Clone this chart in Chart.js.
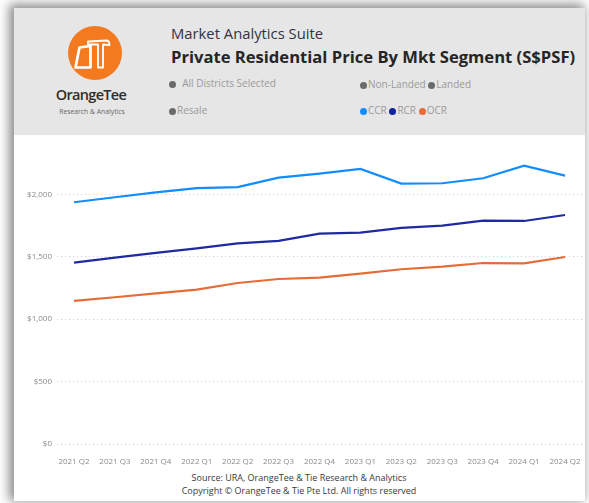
<!DOCTYPE html>
<html>
<head>
<meta charset="utf-8">
<script src="https://cdn.jsdelivr.net/npm/chart.js@4.4.1/dist/chart.umd.min.js"></script>
<style>
  html, body { margin: 0; padding: 0; width: 589px; height: 503px; background: #ffffff; overflow: hidden; font-family: "Open Sans", sans-serif; }
  #card { position: absolute; left: 14px; top: 8px; width: 571px; height: 493px; background: #fff; box-shadow: -3px -2px 10px 2px rgba(0,0,0,0.45); }
  #header { position: absolute; left: 0; top: 0; width: 571px; height: 127px; background: #e6e6e6; }
  .abs { position: absolute; white-space: nowrap; }
  #logoCircle { position: absolute; left: 68px; top: 26px; width: 54px; height: 54px; border-radius: 50%; background: #f47a20; }
  #brand { left: 41px; top: 85px; width: 100px; text-align: center; font-size: 14.5px; color: #2e2e2e; letter-spacing: -0.7px; font-weight: 600; }
  #brandSub { left: 42px; top: 107px; width: 100px; text-align: center; font-size: 6.8px; color: #666; }
  #suite { left: 171px; top: 23px; font-size: 14.8px; color: #333344; }
  #title { left: 171px; top: 45px; font-size: 16.6px; font-weight: 700; color: #252525; }
  .slicer { font-size: 10px; color: #9a9a9a; }
  .dot { display: inline-block; width: 7px; height: 7px; border-radius: 50%; background: #6a6a6a; vertical-align: -1px; margin-right: 1px; }
  #chartWrap { position: absolute; left: 0; top: 135px; width: 589px; height: 330px; }
  .src { left: 0; width: 598px; text-align: center; font-size: 9px; color: #3a3a3a; }
</style>
</head>
<body>
<div id="card">
  <div id="header"></div>
</div>
<div id="logoCircle"></div>
<svg class="abs" style="left:68px;top:26px" width="54" height="54" viewBox="67 26 54 54">
  <path d="M74.5 67.5 L78.5 47.5 L89.5 46 L89.5 67.5 Z" fill="none" stroke="#fff" stroke-width="2.7" stroke-linejoin="round"/>
  <path d="M87 41.5 L106 40.5 Q108.5 41 108.5 45 L102 44.5 L102 67.5 L97 67.5 L97 44.5 L87 44.5 Z" fill="none" stroke="#fff" stroke-width="1.8" stroke-linejoin="round"/>
</svg>
<div id="brand" class="abs">OrangeTee</div>
<div id="brandSub" class="abs">Research &amp; Analytics</div>
<div id="suite" class="abs">Market Analytics Suite</div>
<div id="title" class="abs">Private Residential Price By Mkt Segment (S$PSF)</div>
<div class="abs slicer" style="left:169px;top:76px;"><span class="dot"></span>&nbsp; All Districts Selected</div>
<div class="abs slicer" style="left:360px;top:77px;"><span class="dot"></span>Non-Landed <span class="dot"></span>Landed</div>
<div class="abs slicer" style="left:169px;top:103px;"><span class="dot"></span>Resale</div>
<div class="abs slicer" style="left:360px;top:103px;"><span class="dot" style="background:#118dff"></span>CCR <span class="dot" style="background:#12239e"></span>RCR <span class="dot" style="background:#e66c37"></span>OCR</div>
<div id="chartWrap"><canvas id="c" width="589" height="330"></canvas></div>
<div class="abs src" style="top:471px;">Source: URA, OrangeTee &amp; Tie Research &amp; Analytics</div>
<div class="abs src" style="top:484px;">Copyright © OrangeTee &amp; Tie Pte Ltd. All rights reserved</div>
<script>
const categories = ["2021 Q2","2021 Q3","2021 Q4","2022 Q1","2022 Q2","2022 Q3","2022 Q4","2023 Q1","2023 Q2","2023 Q3","2023 Q4","2024 Q1","2024 Q2"];
const ccr = [1937, 1977, 2016, 2050, 2058, 2134, 2166, 2204, 2086, 2089, 2129, 2230, 2150];
const rcr = [1453, 1493, 1532, 1568, 1608, 1627, 1685, 1693, 1731, 1749, 1790, 1787, 1835];
const ocr = [1146, 1176, 1207, 1237, 1290, 1322, 1333, 1365, 1400, 1421, 1450, 1448, 1498];
const yTicks = [0, 500, 1000, 1500, 2000];

const toPts = arr => arr.map((v, i) => ({ x: i, y: v }));
const tickFont = { family: "Open Sans", size: 8 };

new Chart(document.getElementById('c'), {
  type: 'line',
  data: {
    datasets: [
      { label: 'CCR', data: toPts(ccr), borderColor: '#118dff', borderWidth: 2.2, pointRadius: 0, tension: 0 },
      { label: 'RCR', data: toPts(rcr), borderColor: '#1f2aa0', borderWidth: 2.2, pointRadius: 0, tension: 0 },
      { label: 'OCR', data: toPts(ocr), borderColor: '#e66c37', borderWidth: 2.2, pointRadius: 0, tension: 0 }
    ]
  },
  options: {
    responsive: false,
    animation: false,
    devicePixelRatio: 1,
    layout: { padding: { top: 15.7, right: 7, left: 0, bottom: 0 } },
    plugins: { legend: { display: false }, tooltip: { enabled: false } },
    scales: {
      x: {
        type: 'linear',
        min: -0.415,
        max: 12.415,
        afterBuildTicks: s => { s.ticks = categories.map((_, i) => ({ value: i })); },
        afterFit: s => { s.height = 21; },
        grid: { display: false },
        border: { display: false },
        ticks: {
          autoSkip: false, maxRotation: 0, padding: 5, color: '#8a8a8a', font: tickFont,
          callback: v => categories[Math.round(v)]
        }
      },
      y: {
        min: 0,
        max: 2350,
        afterBuildTicks: s => { s.ticks = yTicks.map(v => ({ value: v })); },
        afterFit: s => { s.width = 57; },
        grid: { color: '#cfcfcf', lineWidth: 1, drawTicks: false },
        border: { display: false, dash: [1, 3] },
        ticks: {
          padding: 5, color: '#8a8a8a', font: tickFont,
          callback: v => '$' + v.toLocaleString('en-US')
        }
      }
    }
  }
});
</script>
</body>
</html>
